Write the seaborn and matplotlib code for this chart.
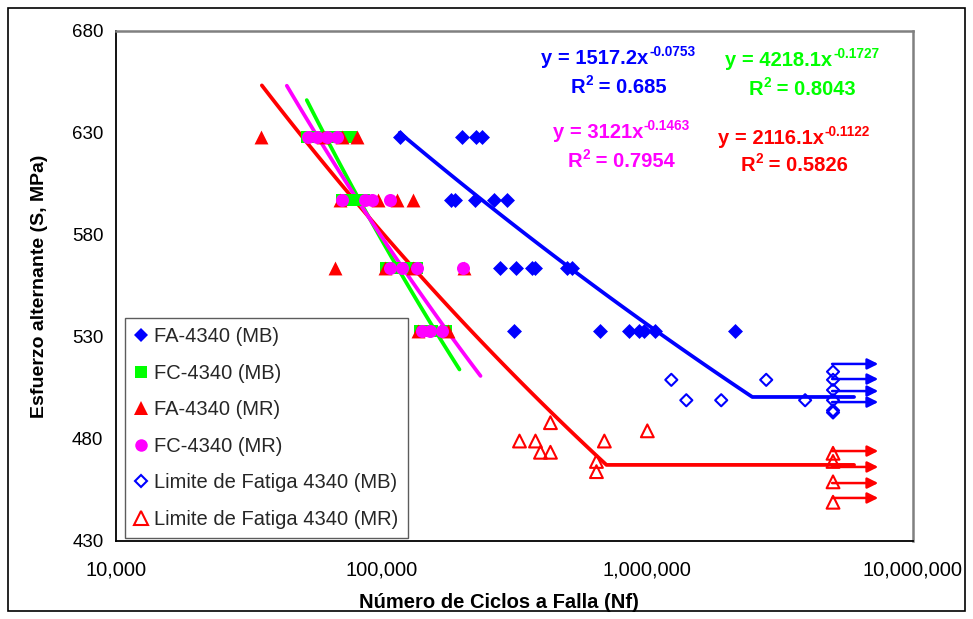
import numpy as np
import pandas as pd
import matplotlib
matplotlib.use("Agg")
import matplotlib.pyplot as plt
import seaborn as sns
from matplotlib.lines import Line2D
from matplotlib.patches import Rectangle
from matplotlib.ticker import FixedLocator, FuncFormatter, NullLocator

# ---------------- data ----------------
fa_mb_N = [116900, 199800, 225600, 237600,
           181700, 188100, 223700, 263700, 295100,
           277700, 319000, 369600, 379300, 500300, 522400,
           313500, 665900, 855700, 933000, 974300, 1071800, 2142000]
fa_mb_S = [628] * 4 + [597] * 5 + [564] * 6 + [533] * 7

fc_mb_N = [52240, 57450, 63760, 69520, 76470,
           70730, 77130, 85580,
           103500, 114800, 127400, 135400,
           139000, 154200, 174000]
fc_mb_S = [628] * 5 + [597] * 3 + [564] * 4 + [533] * 3

fa_mr_N = [35090, 60000, 70730, 80540,
           69520, 96600, 113900, 130800,
           66580, 102600, 130800, 203300,
           136600, 177100]
fa_mr_S = [628] * 4 + [597] * 4 + [564] * 4 + [533] * 2

fc_mr_N = [52700, 56960, 62120, 67730,
           70730, 86330, 91700, 107200,
           107200, 118900, 135400, 201600,
           141400, 151600, 168100]
fc_mr_S = [628] * 4 + [597] * 4 + [564] * 4 + [533] * 3

lim_mb_N = [1231000, 1402000, 1897000, 2802000, 3926000,
            5000000, 5000000, 5000000, 5000000, 5000000, 5000000]
lim_mb_S = [509, 499, 499, 509, 499, 513, 509, 504, 499, 494, 493]

lim_mr_N = [431800, 330200, 379300, 396100, 431800, 643300, 643300,
            689000, 1000000, 5000000, 5000000, 5000000, 5000000]
lim_mr_S = [488, 479, 479, 473.5, 473.5, 469, 464, 479, 484, 473, 469, 459, 449]

series_names = ["FA-4340 (MB)", "FC-4340 (MB)", "FA-4340 (MR)", "FC-4340 (MR)",
                "Limite de Fatiga 4340 (MB)", "Limite de Fatiga 4340 (MR)"]

# power-law trend lines  S = a * N^b
trend_a = [1517.2, 4218.1, 2116.1, 3121.0]
trend_a_txt = ["1517.2", "4218.1", "2116.1", "3121"]
trend_b = [-0.0753, -0.1727, -0.1122, -0.1463]
trend_r2 = ["0.685", "0.8043", "0.5826", "0.7954"]
trend_N_start = [116900, 52240, 35400, 43950]
trend_N_end = [None, 196300, None, 235600]
# fatigue-limit plateaus (MB and MR)
plateau_S = [500.6, None, 467.3, None]
plateau_N_end = [6.0e6, None, 6.0e6, None]

# run-out arrows
arrow_mb_S = [516.8, 509.4, 503.5, 498.1]
arrow_mr_S = [474.1, 466.3, 458.4, 451.1]
arrow_N_from = 4.96e6
arrow_N_to = 7.4e6

xticks = [10000, 100000, 1000000, 10000000]
yticks = [430, 480, 530, 580, 630, 680]

# ---------------- style ----------------
BLUE, GREEN, RED, MAG = "#0000FF", "#00FF00", "#FF0000", "#FF00FF"
colors = [BLUE, GREEN, RED, MAG]

sns.set_theme(style="white")
plt.rcParams["font.family"] = ["Liberation Sans", "DejaVu Sans"]

W, H = 973, 619
fig = plt.figure(figsize=(W / 100, H / 100), dpi=100)
fig.patch.set_facecolor("white")
L, R, T, B = 116, 913, 31, 541
ax = fig.add_axes([L / W, 1 - B / H, (R - L) / W, (B - T) / H])
ax.set_xscale("log")
ax.set_xlim(xticks[0], xticks[-1])
ax.set_ylim(yticks[0], yticks[-1])

# ---------------- trend lines ----------------
for i in range(4):
    a, b = trend_a[i], trend_b[i]
    n0 = trend_N_start[i]
    if plateau_S[i] is not None:
        n1 = (plateau_S[i] / a) ** (1.0 / b)
    else:
        n1 = trend_N_end[i]
    nn = np.logspace(np.log10(n0), np.log10(n1), 80)
    ss = a * nn ** b
    if plateau_S[i] is not None:
        nn = np.append(nn, plateau_N_end[i])
        ss = np.append(ss, plateau_S[i])
    sns.lineplot(x=nn, y=ss, ax=ax, color=colors[i], lw=2.7, sort=False,
                 estimator=None, zorder=2)

# ---------------- points ----------------
sns.scatterplot(x=fa_mb_N, y=fa_mb_S, ax=ax, marker="D", s=58, color=BLUE,
                edgecolor=BLUE, linewidth=0, zorder=3)
sns.scatterplot(x=fc_mb_N, y=fc_mb_S, ax=ax, marker="s", s=80, color=GREEN,
                edgecolor=GREEN, linewidth=0, zorder=3)
sns.scatterplot(x=fa_mr_N, y=fa_mr_S, ax=ax, marker="^", s=100, color=RED,
                edgecolor=RED, linewidth=0, zorder=3)
sns.scatterplot(x=fc_mr_N, y=fc_mr_S, ax=ax, marker="o", s=88, color=MAG,
                edgecolor=MAG, linewidth=0, zorder=3)
sns.scatterplot(x=lim_mb_N, y=lim_mb_S, ax=ax, marker="D", s=38,
                facecolor="none", edgecolor=BLUE, linewidth=1.5, zorder=3)
sns.scatterplot(x=lim_mr_N, y=lim_mr_S, ax=ax, marker="^", s=85,
                facecolor="none", edgecolor=RED, linewidth=1.5, zorder=3)

# ---------------- run-out arrows ----------------
for S_list, c in [(arrow_mb_S, BLUE), (arrow_mr_S, RED)]:
    for s_ in S_list:
        ax.annotate("", xy=(arrow_N_to, s_), xytext=(arrow_N_from, s_),
                    arrowprops=dict(arrowstyle="-|>", color=c, lw=1.8,
                                    mutation_scale=16, shrinkA=0, shrinkB=0),
                    zorder=4)

# ---------------- axes styling ----------------
ax.xaxis.set_major_locator(FixedLocator(xticks))
ax.xaxis.set_minor_locator(NullLocator())
ax.xaxis.set_major_formatter(FuncFormatter(lambda v, p: f"{int(round(v)):,}"))
ax.set_yticks(yticks)
ax.tick_params(axis="both", which="major", direction="out", length=5,
               width=1.2, color="black", labelcolor="black")
ax.tick_params(axis="y", labelsize=13.5, pad=4)
ax.tick_params(axis="x", labelsize=14.5, pad=9)
for side in ["left", "bottom"]:
    ax.spines[side].set_color("black")
    ax.spines[side].set_linewidth(1.3)
for side in ["top", "right"]:
    ax.spines[side].set_color("#808080")
    ax.spines[side].set_linewidth(1.8)
ax.grid(False)

ax.set_xlabel("Número de Ciclos a Falla (Nf)", fontsize=14.5, fontweight="bold",
              color="black")
ax.set_ylabel("Esfuerzo alternante (S, MPa)", fontsize=14, fontweight="bold",
              color="black")
ax.xaxis.set_label_coords(0.481, -0.102)
ax.yaxis.set_label_coords(-0.085, 0.5)

# ---------------- legend ----------------
leg_markers = [("D", BLUE, True, 7.5), ("s", GREEN, True, 8.5), ("^", RED, True, 10),
               ("o", MAG, True, 9), ("D", BLUE, False, 6.5), ("^", RED, False, 9.5)]
handles = []
for (m, c, filled, ms) in leg_markers:
    handles.append(Line2D([], [], marker=m, linestyle="none", markersize=ms,
                          markerfacecolor=c if filled else "none",
                          markeredgecolor=c, markeredgewidth=0 if filled else 1.5))
leg = ax.legend(handles, series_names, loc="lower left",
                bbox_to_anchor=(125 / W, 1 - 538 / H), bbox_transform=fig.transFigure,
                frameon=True, fancybox=False, fontsize=14.5, borderaxespad=0,
                handlelength=0.7, handletextpad=0.3, labelspacing=0.87,
                borderpad=0.45)
leg.get_frame().set_edgecolor("#333333")
leg.get_frame().set_linewidth(1.0)

# ---------------- equations (text with superscripts) ----------------
# (center x, baseline line 1, baseline line 2) in pixels
eq_pos = [(618, 63.5, 92.7), (802, 66.5, 95.0), (794, 144.0, 170.7), (621, 138.0, 166.7)]
MAIN_FS, SUP_FS, RAISE = 14.5, 9.8, 8.0
fig.canvas.draw()
rend = fig.canvas.get_renderer()


def place_sup(cx, base, main_txt, sup_txt, after_txt, color):
    t1 = fig.text(0, 0, main_txt, fontsize=MAIN_FS, fontweight="bold", color=color,
                  ha="left", va="baseline")
    t2 = fig.text(0, 0, sup_txt, fontsize=SUP_FS, fontweight="bold", color=color,
                  ha="left", va="baseline")
    t3 = fig.text(0, 0, after_txt, fontsize=MAIN_FS, fontweight="bold", color=color,
                  ha="left", va="baseline")
    w1 = t1.get_window_extent(rend).width if main_txt else 0
    w2 = t2.get_window_extent(rend).width
    w3 = t3.get_window_extent(rend).width if after_txt else 0
    left = cx - (w1 + w2 + w3) / 2
    t1.set_position((left / W, 1 - base / H))
    t2.set_position(((left + w1 + 0.5) / W, 1 - (base - RAISE) / H))
    t3.set_position(((left + w1 + w2 + 0.5) / W, 1 - base / H))


for i in range(4):
    cx, b1, b2 = eq_pos[i]
    place_sup(cx, b1, f"y = {trend_a_txt[i]}x", f"{trend_b[i]:.4f}", "", colors[i])
    place_sup(cx, b2, "R", "2", f" = {trend_r2[i]}", colors[i])

# ---------------- outer border ----------------
fig.patches.append(Rectangle((8 / W, 8 / H), 1 - 16 / W, 1 - 16 / H,
                             transform=fig.transFigure, fill=False,
                             edgecolor="black", linewidth=1.2))

fig.savefig("out.png", dpi=100)
